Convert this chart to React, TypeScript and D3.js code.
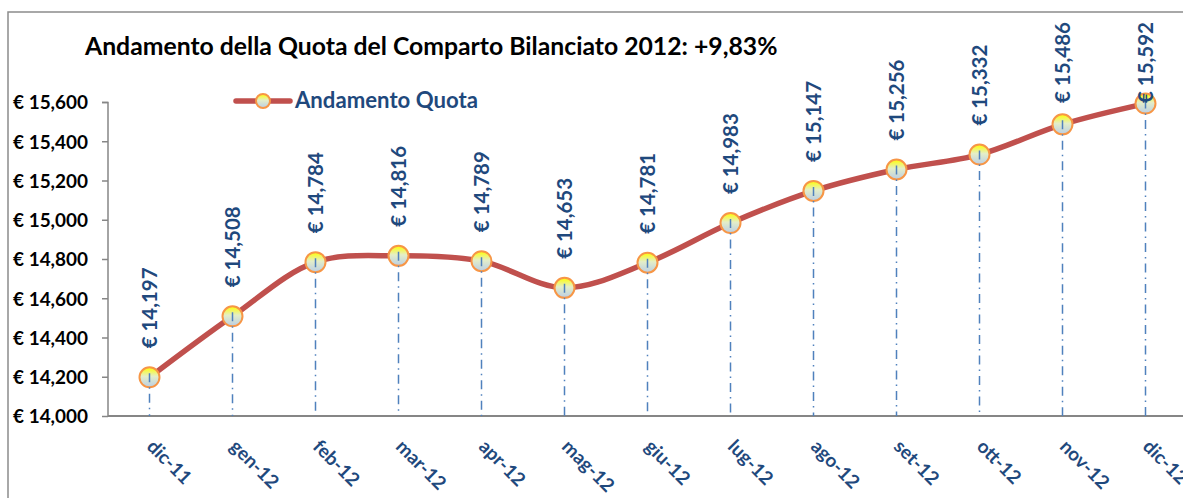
import React, { useEffect, useRef } from 'react';
import * as d3 from 'd3';

const months = ['dic-11', 'gen-12', 'feb-12', 'mar-12', 'apr-12', 'mag-12', 'giu-12', 'lug-12', 'ago-12', 'set-12', 'ott-12', 'nov-12', 'dic-12'];
const quota = [14197, 14508, 14784, 14816, 14789, 14653, 14781, 14983, 15147, 15256, 15332, 15486, 15592];
const yTicks = [14000, 14200, 14400, 14600, 14800, 15000, 15200, 15400, 15600];
const title = 'Andamento della Quota del Comparto Bilanciato 2012: +9,83%';
const seriesName = 'Andamento Quota';

const W = 1183;
const H = 498;
const FONT = 'Lato, "Open Sans", sans-serif';
const BLUE = '#1F497D';

// scale font so the first node matches the width seen in the picture
function fit(sel: d3.Selection<any, any, any, any>, base: number, target: number) {
  sel.attr('font-size', base);
  const n = sel.node() as SVGTextElement | null;
  if (!n) return base;
  const w = n.getComputedTextLength();
  const fs = w > 0 ? (base * target) / w : base;
  sel.attr('font-size', fs);
  return fs;
}

export default function App() {
  const ref = useRef<SVGSVGElement>(null);

  useEffect(() => {
    document.body.style.margin = '0';
    document.body.style.overflow = 'hidden';
    const svg = d3.select(ref.current);
    svg.selectAll('*').remove();

    const x = d3.scaleBand<string>().domain(months).range([108, 1187]);
    const y = d3.scaleLinear().domain([14000, 15600]).range([416, 102]);
    const cx = (m: string) => (x(m) as number) + x.bandwidth() / 2;

    const defs = svg.append('defs');
    const grad = defs.append('linearGradient').attr('id', 'mk').attr('x1', 0).attr('y1', 0).attr('x2', 0).attr('y2', 1);
    grad.append('stop').attr('offset', '0%').attr('stop-color', '#FFFF00');
    grad.append('stop').attr('offset', '45%').attr('stop-color', '#E4EEC8');
    grad.append('stop').attr('offset', '100%').attr('stop-color', '#B9CDE5');

    // outer frame
    svg.append('rect').attr('x', 8).attr('y', 12).attr('width', 1300).attr('height', 600)
      .attr('fill', 'white').attr('stroke', '#8C8C8C').attr('stroke-width', 1.5);

    const t = svg.append('text').attr('x', 85).attr('y', 55).attr('font-family', FONT).attr('font-weight', 700)
      .attr('fill', '#000').text(title);
    fit(t, 22, 693);

    // y axis
    const yAxis = svg.append('g').attr('transform', 'translate(108,0)')
      .call(d3.axisLeft(y).tickValues(yTicks).tickSize(6).tickPadding(14)
        .tickFormat(d => '€ ' + d3.format(',')(d as number)));
    yAxis.selectAll('path, line').attr('stroke', '#868686').attr('stroke-width', 1.5);
    yAxis.select('.domain').attr('d', 'M-6,102.5H0V416');
    const yt = yAxis.selectAll('text').attr('font-family', FONT).attr('font-weight', 700)
      .attr('fill', '#000').attr('dy', '0.36em');
    const lab = fit(yt, 17, 75);

    // x axis
    svg.append('line').attr('x1', 108).attr('x2', W).attr('y1', 416).attr('y2', 416)
      .attr('stroke', '#868686').attr('stroke-width', 2);
    svg.append('g').selectAll('text').data(months).enter().append('text')
      .attr('transform', d => `translate(${cx(d) + 1},${443}) rotate(45)`)
      .attr('font-family', FONT).attr('font-weight', 700).attr('font-size', lab).attr('fill', BLUE)
      .attr('dy', '0.35em').text(d => d);

    const pts = months.map((m, i) => ({ m, v: quota[i], px: cx(m), py: y(quota[i]) }));

    const line = d3.line<typeof pts[0]>().x(d => d.px).y(d => d.py).curve(d3.curveCatmullRom.alpha(0.5));
    svg.append('path').attr('d', line(pts)).attr('fill', 'none').attr('stroke', '#C0504D')
      .attr('stroke-width', 5.5).attr('stroke-linejoin', 'round');

    svg.append('g').selectAll('circle').data(pts).enter().append('circle')
      .attr('cx', d => d.px).attr('cy', d => d.py).attr('r', 10)
      .attr('fill', 'url(#mk)').attr('stroke', '#F79646').attr('stroke-width', 2);

    svg.append('g').selectAll('line').data(pts).enter().append('line')
      .attr('x1', d => d.px).attr('x2', d => d.px).attr('y1', d => d.py - 4).attr('y2', 416)
      .attr('stroke', '#4F81BD').attr('stroke-width', 1.5).attr('stroke-dasharray', '9,5,1.5,5');

    const dl = svg.append('g').selectAll('text').data(pts).enter().append('text')
      .attr('font-family', FONT).attr('font-weight', 700).attr('fill', BLUE)
      .text(d => '€ ' + d3.format(',')(d.v));
    fit(dl, 18, 81);
    dl.attr('transform', d => `translate(${d.px + 7},${Math.max(d.py - 29, 103)}) rotate(-90)`);

    // legend
    const lg = svg.append('g');
    lg.append('line').attr('x1', 236).attr('x2', 290).attr('y1', 101).attr('y2', 101)
      .attr('stroke', '#C0504D').attr('stroke-width', 5.5).attr('stroke-linecap', 'round');
    lg.append('circle').attr('cx', 263).attr('cy', 101).attr('r', 7)
      .attr('fill', 'url(#mk)').attr('stroke', '#F79646').attr('stroke-width', 2);
    const lt = lg.append('text').attr('x', 295).attr('y', 108).attr('font-family', FONT).attr('font-weight', 700)
      .attr('fill', BLUE).text(seriesName);
    fit(lt, 20, 183);
  }, []);

  return <svg ref={ref} width={W} height={H} style={{ display: 'block', background: 'white' }} />;
}
